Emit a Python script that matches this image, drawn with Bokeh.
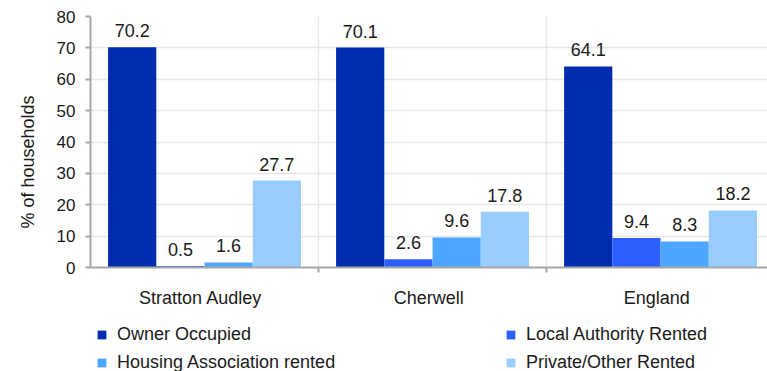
from bokeh.plotting import figure
from bokeh.layouts import column
from bokeh.models import (FixedTicker, Legend, LegendItem, LabelSet, Title,
                          Range1d, ColumnDataSource)
from bokeh.core.properties import value
from bokeh.embed import file_html
from bokeh.resources import INLINE

# ---- data ----
areas = ["Stratton Audley", "Cherwell", "England"]
series = ["Owner Occupied", "Local Authority Rented",
          "Housing Association rented", "Private/Other Rented"]
owner_occupied = [70.2, 70.1, 64.1]
local_authority = [0.5, 2.6, 9.4]
housing_association = [1.6, 9.6, 8.3]
private_other = [27.7, 17.8, 18.2]
y_ticks = [0, 10, 20, 30, 40, 50, 60, 70, 80]
colors = ["#002DB0", "#2B5FFF", "#4DA6FF", "#99CCFF"]

values = [owner_occupied, local_authority, housing_association, private_other]

FONT = "Liberation Sans"
TXT = "#1a1a1a"
AXIS_GRAY = "#a6a6a6"
GRID = "#e8e8e8"

p = figure(width=767, height=310,
           x_range=Range1d(0, 2.969), y_range=Range1d(0, 80),
           output_backend="svg", toolbar_location=None,
           min_border_left=90, min_border_top=16, min_border_right=0,
           min_border_bottom=41)
p.outline_line_color = None
p.background_fill_color = "white"

gap = 0.077
bw = 0.2115

for k, vals in enumerate(values):
    xs = [g + gap + (k + 0.5) * bw for g in range(len(areas))]
    src = ColumnDataSource(dict(x=xs, top=vals, lab=[f"{v:.1f}" for v in vals]))
    p.vbar(x="x", top="top", width=bw, bottom=0, source=src,
           fill_color=colors[k], line_color=None)
    ls = LabelSet(x="x", y="top", text="lab", source=src,
                  text_align="center", text_baseline="alphabetic",
                  y_offset=10, text_font=value(FONT),
                  text_font_size=value("18px"), text_color=value(TXT))
    p.add_layout(ls)

# x axis (category names near each group's centre)
label_shift = 0.017
cat_ticks = [g + 0.5 - label_shift for g in range(len(areas))]
p.xaxis.ticker = FixedTicker(ticks=cat_ticks, minor_ticks=[1, 2])
p.xaxis.major_label_overrides = {t: a for t, a in zip(cat_ticks, areas)}
p.xaxis.major_tick_in = 0
p.xaxis.major_tick_out = 0
p.xaxis.minor_tick_in = 0
p.xaxis.minor_tick_out = 5
p.xaxis.minor_tick_line_color = AXIS_GRAY
p.xaxis.minor_tick_line_width = 2
p.xaxis.axis_line_color = AXIS_GRAY
p.xaxis.axis_line_width = 2
p.xaxis.major_label_standoff = 15
p.xaxis.major_label_text_font = FONT
p.xaxis.major_label_text_font_size = "18px"
p.xaxis.major_label_text_color = TXT

# y axis
p.yaxis.ticker = FixedTicker(ticks=y_ticks)
p.yaxis.minor_tick_line_color = None
p.yaxis.major_tick_in = 0
p.yaxis.major_tick_out = 5
p.yaxis.major_tick_line_color = AXIS_GRAY
p.yaxis.major_tick_line_width = 2
p.yaxis.axis_line_color = AXIS_GRAY
p.yaxis.axis_line_width = 2
p.yaxis.major_label_standoff = 10
p.yaxis.major_label_text_font = FONT
p.yaxis.major_label_text_font_size = "17px"
p.yaxis.major_label_text_color = TXT

# y title (as a left-side title so it can sit where the reference has it)
p.add_layout(Title(text="% of households", align="left", offset=39,
                   standoff=31, text_font=FONT, text_font_size="18px",
                   text_font_style="normal", text_color=TXT), "left")

# grids
p.xgrid.ticker = FixedTicker(ticks=[1, 2])
p.ygrid.ticker = FixedTicker(ticks=y_ticks)
for gr in (p.xgrid, p.ygrid):
    gr.grid_line_color = GRID
    gr.grid_line_width = 1.5

# ---- legend strip ----
lg = figure(width=767, height=61, x_range=Range1d(0, 1), y_range=Range1d(0, 1),
            output_backend="svg", toolbar_location=None,
            min_border=0, min_border_left=90, min_border_right=0,
            min_border_top=0, min_border_bottom=0)
lg.axis.visible = False
lg.grid.visible = False
lg.outline_line_color = None

items = []
for s, c in zip(series, colors):
    r = lg.vbar(x=[5], top=[5], bottom=[4], width=0.1, fill_color=c,
                line_color=None)
    items.append(LegendItem(label=s, renderers=[r]))

legend = Legend(items=items, location=(6, -2), orientation="horizontal", ncols=2,
                padding=0, margin=0, spacing=7, label_standoff=10,
                glyph_width=11, glyph_height=11, label_width=381,
                label_height=20, label_text_font=FONT,
                label_text_font_size="18px", label_text_color=TXT,
                border_line_color=None, background_fill_alpha=0)
lg.add_layout(legend, "center")

open("out.html", "w").write(file_html(column(p, lg), INLINE))
